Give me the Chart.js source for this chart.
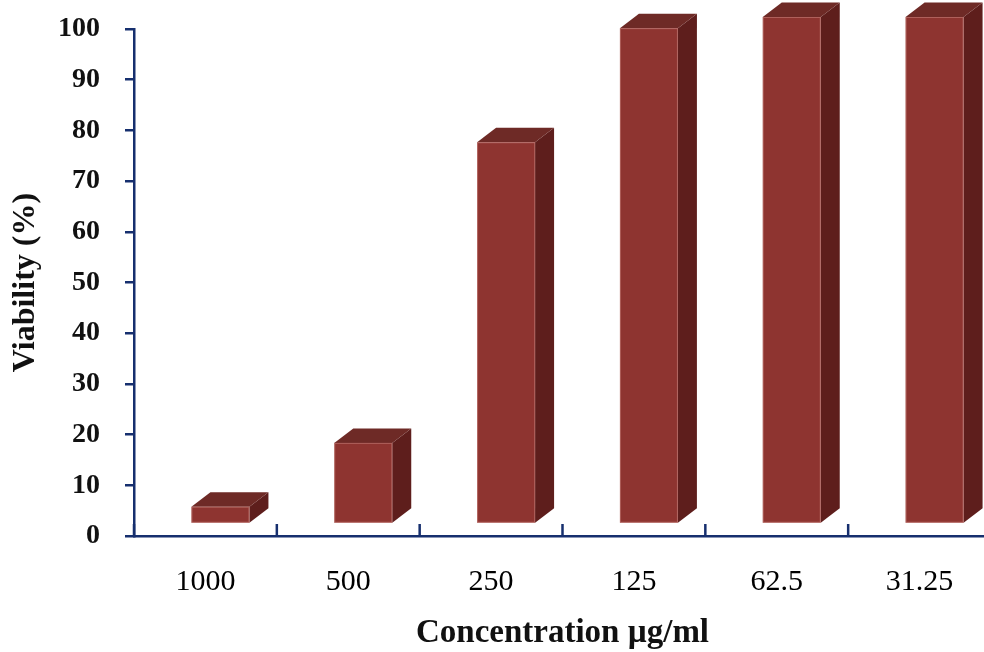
<!DOCTYPE html>
<html><head><meta charset="utf-8">
<script src="https://cdn.jsdelivr.net/npm/chart.js@4.4.0/dist/chart.umd.min.js"></script>
<style>
html,body{margin:0;padding:0;background:#fff;overflow:hidden;width:984px;height:652px}
#wrap{position:absolute;left:0;top:0;width:992px;height:652px}
</style></head><body>
<div id="wrap"><canvas id="c" width="992" height="652"></canvas></div>
<script>
// ---- data ----
const categories = ['1000', '500', '250', '125', '62.5', '31.25'];
const viability = [3.4, 16, 75.3, 97.8, 100, 100];
const yMin = 0, yMax = 100, yStep = 10;
const xTitle = 'Concentration \u00b5g/ml';
const yTitle = 'Viability (%)';

// ---- style ----
const AXIS = '#162f6e';
const FRONT = '#8e3430', TOP = '#6e2a26', SIDE = '#5e1e1c';
const SHIFT_X = 15, LIFT = 12, DX = 19, DY = 14.5;
const FONT = "'Liberation Serif', 'Times New Roman', serif";

const bars3d = {
  id: 'bars3d',
  afterDatasetsDraw(chart) {
    const ctx = chart.ctx;
    const meta = chart.getDatasetMeta(0);
    ctx.save();
    meta.data.forEach(el => {
      const p = el.getProps(['x', 'y', 'base', 'width'], true);
      const L = p.x - p.width / 2 + SHIFT_X, R = L + p.width;
      const T = p.y - LIFT, B = p.base - LIFT;
      ctx.fillStyle = SIDE;
      ctx.beginPath();
      ctx.moveTo(R, T); ctx.lineTo(R + DX, T - DY); ctx.lineTo(R + DX, B - DY); ctx.lineTo(R, B);
      ctx.closePath(); ctx.fill();
      ctx.fillStyle = TOP;
      ctx.beginPath();
      ctx.moveTo(L, T); ctx.lineTo(L + DX, T - DY); ctx.lineTo(R + DX, T - DY); ctx.lineTo(R, T);
      ctx.closePath(); ctx.fill();
      ctx.fillStyle = FRONT;
      ctx.fillRect(L, T, p.width, B - T);
      ctx.strokeStyle = 'rgba(215,150,145,0.45)';
      ctx.lineWidth = 1;
      ctx.strokeRect(L + 0.5, T + 0.5, p.width - 1, B - T - 1);
    });
    ctx.restore();
  }
};

const xTickMarks = {
  id: 'xTickMarks',
  afterDraw(chart) {
    const xs = chart.scales.x, ctx = chart.ctx;
    const half = (xs.getPixelForValue(1) - xs.getPixelForValue(0)) / 2;
    const yb = chart.chartArea.bottom;
    ctx.save();
    ctx.strokeStyle = AXIS; ctx.lineWidth = 2.5;
    for (let i = 0; i <= categories.length; i++) {
      const tx = xs.getPixelForValue(0) - half + i * 2 * half;
      ctx.beginPath(); ctx.moveTo(tx, yb); ctx.lineTo(tx, yb - 12); ctx.stroke();
    }
    ctx.restore();
  }
};

new Chart(document.getElementById('c'), {
  type: 'bar',
  data: {
    labels: categories,
    datasets: [{
      data: viability,
      backgroundColor: 'rgba(0,0,0,0)',
      borderWidth: 0,
      barPercentage: 0.406,
      categoryPercentage: 1.0,
      clip: false
    }]
  },
  options: {
    responsive: false,
    animation: false,
    devicePixelRatio: 1,
    layout: { padding: { top: 29, right: 1, left: 0, bottom: 0 } },
    plugins: { legend: { display: false }, tooltip: { enabled: false } },
    scales: {
      x: {
        afterFit: s => { s.height = 116; s.paddingLeft = 0; s.paddingRight = 0; },
        grid: { display: false, drawTicks: false },
        border: { display: true, color: AXIS, width: 2.5 },
        ticks: { color: '#000', font: { family: FONT, size: 30 }, padding: 28, maxRotation: 0 },
        title: { display: true, text: xTitle, color: '#111', font: { family: FONT, size: 33, weight: 'bold', lineHeight: 1 }, padding: { top: 0, bottom: 2 } }
      },
      y: {
        min: yMin, max: yMax,
        afterFit: s => { s.width = 134; s.paddingTop = 0; s.paddingBottom = 0; },
        grid: { drawOnChartArea: false, drawTicks: true, tickLength: 9, color: AXIS, lineWidth: 2.5 },
        border: { display: true, color: AXIS, width: 2.5 },
        ticks: { stepSize: yStep, color: '#111', font: { family: FONT, size: 28, weight: 'bold' }, padding: 25 },
        title: { display: true, text: yTitle, color: '#111', font: { family: FONT, size: 32, weight: 'bold', lineHeight: 1.2 }, padding: { top: 7, bottom: 0 } }
      }
    }
  },
  plugins: [bars3d, xTickMarks]
});
</script>
</body></html>
